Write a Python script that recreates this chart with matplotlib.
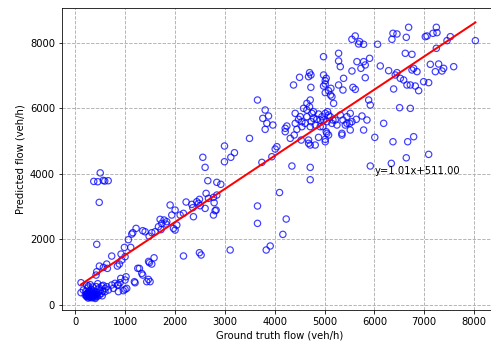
import numpy as np
import matplotlib
matplotlib.use("Agg")
import matplotlib.pyplot as plt

# ground truth vs predicted flow (veh/h), grouped by part of the cloud
low_gt = [114, 114, 161, 200, 210, 230, 240, 250, 260, 270, 280, 290, 300, 310, 320,
          330, 340, 350, 360, 370, 380, 390, 400, 410, 420, 430, 440, 460, 480, 500,
          520, 540, 560, 300, 350, 260, 450, 400, 330, 280, 240, 370, 220, 480, 550,
          250, 270, 290, 310, 330, 350, 370, 390, 230, 300]
low_pred = [681, 376, 458, 300, 420, 250, 360, 520, 210, 300, 420, 240, 340, 260, 480,
            220, 380, 300, 250, 430, 330, 230, 280, 400, 560, 320, 260, 380, 300, 450,
            350, 280, 600, 620, 550, 580, 650, 200, 300, 330, 260, 280, 330, 520, 420,
            350, 260, 380, 290, 410, 270, 350, 310, 290, 240]

low2_gt = [663, 596, 630, 730, 797, 864, 897, 764, 864, 964, 998, 1032, 530, 597, 228,
           844, 911, 1018, 998, 1199, 1185, 1286, 1333, 1353, 1467, 1433, 1500, 1487, 1534, 1580,
           1470, 1253, 416, 429, 483, 563, 643, 630, 730, 844, 884, 931, 918, 998]
low2_pred = [458, 407, 559, 610, 661, 610, 681, 508, 407, 437, 478, 507, 578, 507, 608,
             608, 812, 862, 762, 679, 711, 1117, 964, 913, 781, 712, 712, 1290, 1249, 1440,
             1330, 1119, 913, 1015, 1188, 1147, 1117, 1249, 1493, 1188, 1249, 1371, 1554, 1473]

ramp_gt = [985, 1112, 1065, 1132, 1153, 1219, 1353, 1400, 1534, 1600, 1667, 1734, 1701, 1781, 1821,
           1835, 1902, 2002, 1935, 1969, 2002, 2036, 2103, 2169, 2223, 2337, 2357, 2370, 2437, 2491,
           2471, 2504, 2604, 2624, 2671, 2772, 2785, 2805, 2772, 2839, 2825, 1480, 1720]
ramp_pred = [1757, 1757, 1992, 2164, 2205, 2337, 2266, 2235, 2205, 2235, 2388, 2490, 2612, 2592, 2469,
             2541, 3049, 2896, 2744, 2337, 2286, 2439, 2744, 2795, 3141, 3069, 2968, 2693, 3151, 3222,
             3100, 3029, 2947, 3405, 3253, 3283, 3120, 2876, 2744, 3354, 2896, 2100, 2300]

off_gt = [430, 500, 370, 450, 560, 660, 590, 480, 2170, 2490, 2524, 3107, 3830, 3910, 3655,
          3655, 4231, 4164, 4097, 4713, 4713, 4345, 5918, 6340, 6640, 7089, 6373, 6668, 6788, 6008,
          6186, 6506, 6721]
off_pred = [1850, 4030, 3770, 3760, 3800, 3790, 3780, 3130, 1495, 1595, 1525, 1678, 1678, 1800, 3020,
            2490, 2622, 2154, 3430, 3820, 4198, 4239, 4239, 4320, 4490, 4594, 4980, 4980, 5133, 5113,
            5540, 6018, 5998]

mid_gt = [2558, 2604, 2992, 3120, 3193, 2658, 2839, 2919, 2993, 3655, 3809, 3762, 3876, 3843, 3963,
          3809, 3495, 4010, 3743, 3943, 4044]
mid_pred = [4505, 4198, 4370, 4505, 4645, 3791, 3742, 3681, 4849, 6252, 5947, 5693, 5764, 5540, 5489,
            5357, 5082, 4757, 4350, 4523, 4828]

core_gt = [4378, 4726, 4980, 5080, 5120, 4244, 4211, 4445, 4411, 4545, 4478, 4579, 4646, 4713, 4699,
           4779, 4846, 4947, 4880, 5014, 5061, 4646, 4612, 4733, 4813, 4913, 4713, 4532, 4679, 4713,
           4813, 4880, 5014, 5047,
           5128, 5148, 5182, 5570, 5617, 5885, 5918, 5081, 5115, 4981, 5048, 5148, 5215, 4968, 5034,
           5081, 5014, 5316, 5369, 5449, 5516, 5550, 5416, 5349, 5503, 5637, 5751, 5851, 5784,
           4499, 4700, 4727, 4981, 5014, 5034, 5282, 5369, 5382, 5316, 5550, 5014, 4747, 4646, 4680,
           5349, 5516, 5449, 5249, 5168, 4914, 4780, 4546, 4412, 4512, 4211, 4392, 4312]
core_pred = [6710, 6638, 6679, 6537, 6404, 5459, 5286, 5357, 5845, 5591, 5662, 5998, 6150, 6252, 6048,
             5896, 5662, 5743, 5825, 5845, 5896, 5743, 5540, 5591, 5489, 5438, 5438, 5031, 5031, 4879,
             4879, 5113, 4980, 5235,
             6608, 6354, 6150, 6638, 6577, 6252, 6099, 5794, 5743, 5642, 5591, 5540, 5642, 5438, 5286,
             5184, 5052, 5794, 5642, 5743, 5845, 5591, 5489, 5235, 5540, 5662, 5764, 5642, 5337,
             6944, 7086, 7015, 7015, 6842, 6913, 6710, 6557, 6913, 7269, 7137, 6476, 5845, 5947, 4930,
             5184, 5337, 5540, 5489, 5642, 5642, 5693, 5438, 5540, 5744, 5388, 5184, 5083]

high_gt = [4980, 5282, 5282, 5650, 5784, 5817, 5904, 5730, 5817, 4679, 5014, 5616, 5549, 5703, 5784,
           5683, 6065, 6118, 6286, 6453,
           6687, 6640, 6373, 6453, 6352, 7055, 7022, 7176, 7256, 7243, 7457, 7524, 8026, 6620, 6754,
           7243, 7122, 7289, 7390, 7356,
           7223, 7591, 6419, 6520, 6587, 6654, 6721, 6821, 6888, 6988, 7089, 6754, 6855, 6788, 6386]
high_pred = [7574, 7676, 7442, 7422, 7422, 7320, 7523, 7218, 6933, 6964, 6740, 8205, 8103, 8032, 7951,
             7961, 7951, 7290, 7147, 7086,
             8469, 8164, 8286, 8266, 8103, 8205, 8184, 8286, 8306, 8469, 8062, 8184, 8062, 7676, 7645,
             7829, 7340, 7350, 7218, 7137,
             7117, 7269, 7015, 6913, 6862, 6710, 6710, 6679, 6537, 6811, 6781, 7168, 7117, 7218, 6588]

slope, intercept = 1.01, 511.0
x_ticks = [0, 1000, 2000, 3000, 4000, 5000, 6000, 7000, 8000]
y_ticks = [0, 2000, 4000, 6000, 8000]

gt = np.array(low_gt + low2_gt + ramp_gt + off_gt + mid_gt + core_gt + high_gt, dtype=float)
pred = np.array(low_pred + low2_pred + ramp_pred + off_pred + mid_pred + core_pred + high_pred, dtype=float)

fig = plt.figure(figsize=(491 / 72, 347 / 72), dpi=72)
ax = fig.add_axes([62 / 491, 37 / 347, 435 / 491, 302 / 347])

ax.scatter(gt, pred, facecolors="none", edgecolors="b", alpha=0.75, s=40,
           linewidths=1.2, zorder=2)
fit_x = np.array([gt.min(), gt.max()])
ax.plot(fit_x, slope * fit_x + intercept, color="r", linewidth=2, zorder=3)
ax.text(6000, 4000, "y={:.2f}x+{:.2f}".format(slope, intercept), fontsize=10)

ax.set_xlim(-267, 8460)
ax.set_ylim(-152, 9058)
ax.set_xticks(x_ticks)
ax.set_yticks(y_ticks)
ax.grid(True, linestyle="--", color="#b0b0b0", linewidth=0.9)
ax.set_axisbelow(True)
ax.set_xlabel("Ground truth flow (veh/h)")
ax.set_ylabel("Predicted flow (veh/h)")

fig.savefig("out.png", dpi=72)
